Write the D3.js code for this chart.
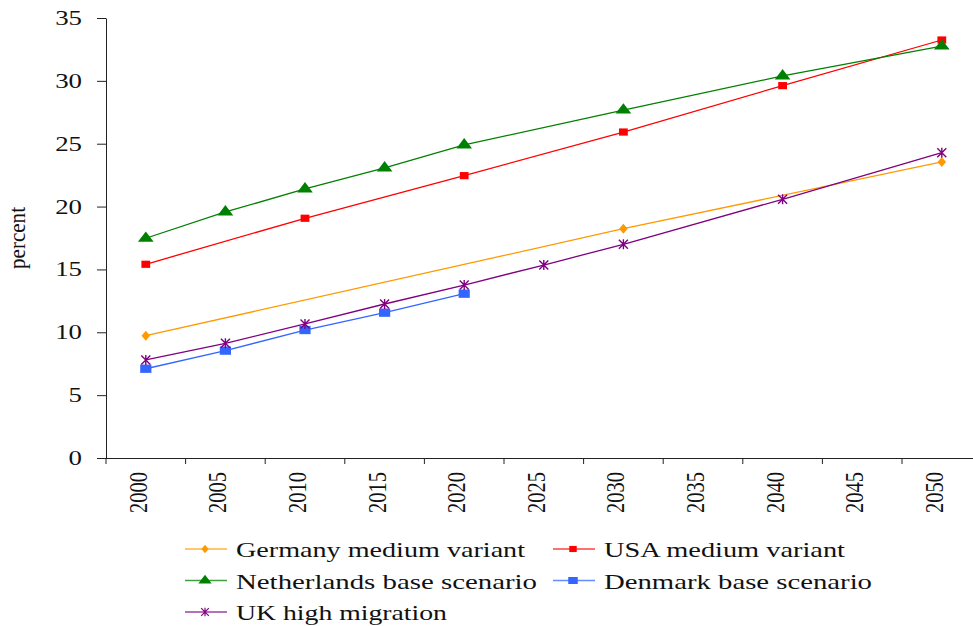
<!DOCTYPE html>
<html><head><meta charset="utf-8">
<script src="https://cdn.jsdelivr.net/npm/d3@7"></script>
<style>
html,body{margin:0;padding:0;background:#fff;}
svg{display:block;}
</style></head>
<body><svg id="c" width="973" height="626"></svg>
<script>
const years = ["2000","2005","2010","2015","2020","2025","2030","2035","2040","2045","2050"];
const yTicks = [0,5,10,15,20,25,30,35];
const germany     = [9.73, null, null, null, null, null, 18.24, null, null, null, 23.55];
const usa         = [15.41, null, 19.07, null, 22.46, null, 25.93, null, 29.62, null, 33.25];
const netherlands = [17.48, 19.57, 21.4, 23.07, 24.9, null, 27.68, null, 30.39, null, 32.77];
const denmark     = [7.1, 8.54, 10.18, 11.56, 13.07, null, null, null, null, null, null];
const uk          = [7.8, 9.12, 10.66, 12.25, 13.76, 15.35, 17.0, null, 20.58, null, 24.29];
const seriesNames = ["Germany medium variant","USA medium variant","Netherlands base scenario","Denmark base scenario","UK high migration"];
const yLabel = "percent";

const FONT = "'Liberation Serif'";

const series = [
  {name: seriesNames[0], values: germany,     color: "#FF9900", marker: "diamond"},
  {name: seriesNames[1], values: usa,         color: "#FF0000", marker: "square"},
  {name: seriesNames[2], values: netherlands, color: "#008000", marker: "triangle"},
  {name: seriesNames[3], values: denmark,     color: "#3366FF", marker: "bigsquare"},
  {name: seriesNames[4], values: uk,          color: "#800080", marker: "star"}
];

const svg = d3.select("#c");
const x = d3.scaleBand().domain(years).range([106, 981.6]).padding(0);
const y = d3.scaleLinear().domain([0, 35]).range([458, 18]);
const cx = d => x(d) + x.bandwidth()/2;

function txt(sel) {
  return sel.append("text").style("font-family", FONT).attr("fill","#111");
}

// Y axis
const yAxis = svg.append("g").attr("transform","translate(106,0)")
  .call(d3.axisLeft(y).tickValues(yTicks).tickSize(9).tickSizeOuter(0).tickFormat(""));
yAxis.select(".domain").attr("stroke","#222");
yAxis.selectAll(".tick line").attr("stroke","#222");
yTicks.forEach(t => {
  txt(svg.append("g").attr("transform",`translate(82,${y(t)+7}) scale(1.28,1)`))
    .attr("text-anchor","end").attr("font-size","21px").text(t);
});

// X axis
const xAxis = svg.append("g").attr("transform","translate(0,458)")
  .call(d3.axisBottom(x).tickSize(6).tickSizeOuter(0).tickFormat(""));
xAxis.select(".domain").attr("stroke","#222").attr("d","M97,0.5H973");
xAxis.selectAll(".tick line").attr("stroke","#222").attr("transform",`translate(${-x.bandwidth()/2},0)`);
years.forEach(yr => {
  txt(svg.append("g").attr("transform",`translate(${cx(yr)+1},472) scale(1.27,1) rotate(-90)`))
    .attr("text-anchor","end").attr("font-size","20px")
    .attr("textLength",41).attr("lengthAdjust","spacingAndGlyphs").text(yr);
});

// Y label
txt(svg.append("g").attr("transform","translate(25,238) scale(1.25,1) rotate(-90)"))
  .attr("text-anchor","middle").attr("font-size","18px")
  .attr("textLength",62).attr("lengthAdjust","spacingAndGlyphs").text(yLabel);

function drawMarker(g, type, color) {
  if (type === "star") {
    const s = 4.5;
    g.append("path").attr("d",`M${-s},${-s}L${s},${s}M${-s},${s}L${s},${-s}M0,${-s-0.5}L0,${s+0.5}`)
      .attr("stroke",color).attr("stroke-width",1.4).attr("fill","none");
    return;
  }
  let sym, size, sc;
  if (type === "diamond") { sym = d3.symbolDiamond; size = 40; sc = "scale(1.25,0.85)"; }
  else if (type === "square") { sym = d3.symbolSquare; size = 64; sc = "scale(1.1,0.9)"; }
  else if (type === "bigsquare") { sym = d3.symbolSquare; size = 95; sc = "scale(1.15,0.85)"; }
  else { sym = d3.symbolTriangle; size = 68; sc = "scale(1.25,0.95)"; }
  g.append("path").attr("d", d3.symbol().type(sym).size(size)()).attr("transform", sc).attr("fill", color);
}

// Lines and markers
const line = d3.line().x(d => cx(d.year)).y(d => y(d.v));
series.forEach(s => {
  const pts = years.map((yr,i) => ({year: yr, v: s.values[i]})).filter(d => d.v !== null);
  svg.append("path").datum(pts).attr("d", line).attr("fill","none")
    .attr("stroke", s.color).attr("stroke-width", 1.3);
  pts.forEach(p => {
    const g = svg.append("g").attr("transform",`translate(${cx(p.year)},${y(p.v)})`);
    drawMarker(g, s.marker, s.color);
  });
});

// Legend
const legendPos = [
  {lx: 185, ly: 549, w: 289},
  {lx: 553, ly: 549, w: 241},
  {lx: 185, ly: 580.5, w: 301},
  {lx: 553, ly: 580.5, w: 268},
  {lx: 185, ly: 612, w: 211}
];
series.forEach((s,i) => {
  const p = legendPos[i];
  const g = svg.append("g").attr("transform",`translate(${p.lx},${p.ly})`);
  g.append("line").attr("x1",0).attr("x2",42).attr("y1",0).attr("y2",0)
    .attr("stroke", s.color).attr("stroke-width",1.5).attr("stroke-opacity",0.75);
  const mg = g.append("g").attr("transform","translate(20,0) scale(0.85)");
  drawMarker(mg, s.marker, s.color);
  txt(g).attr("x",51).attr("y",8).attr("font-size","21px")
    .attr("textLength",p.w).attr("lengthAdjust","spacingAndGlyphs").text(s.name);
});
</script>
</body></html>
